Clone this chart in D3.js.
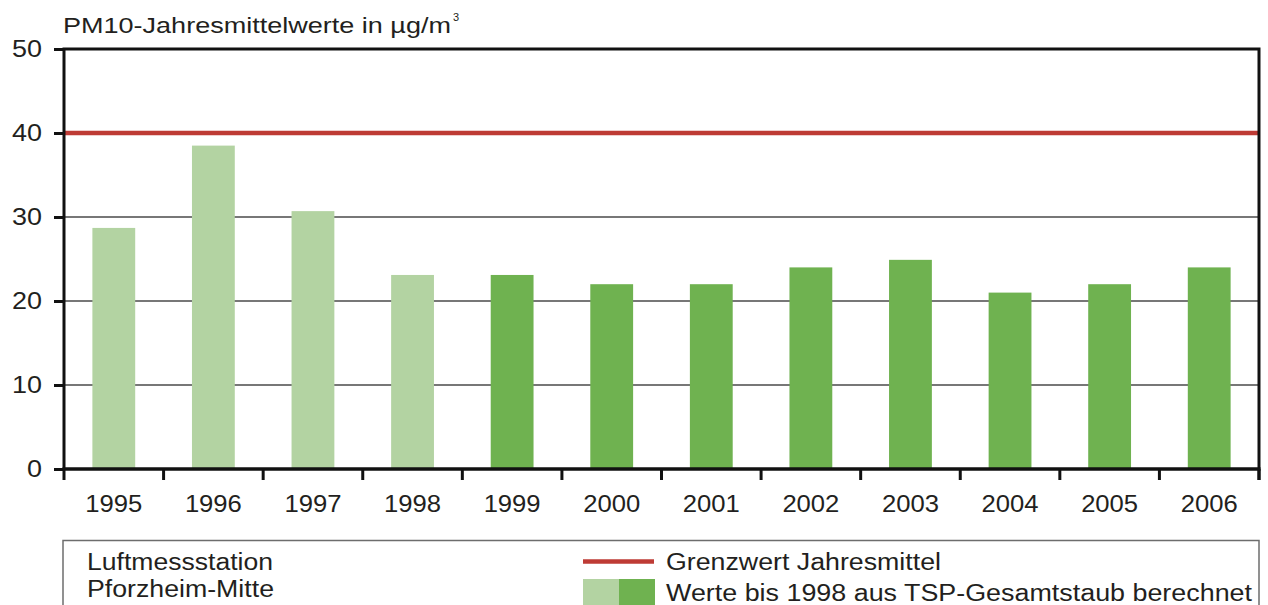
<!DOCTYPE html>
<html>
<head>
<meta charset="utf-8">
<script src="https://cdn.jsdelivr.net/npm/d3@7"></script>
<style>
  body { margin: 0; background: #fff; }
  svg text { font-family: "Liberation Sans", Arial, sans-serif; fill: #231f20; }
</style>
</head>
<body>
<svg id="chart" width="1268" height="605"></svg>
<script>
// PM10 annual means, Pforzheim-Mitte
const years = ["1995", "1996", "1997", "1998", "1999", "2000", "2001", "2002", "2003", "2004", "2005", "2006"];
const values = [28.7, 38.5, 30.7, 23.1, 23.1, 22, 22, 24, 24.9, 21, 22, 24];
const derived = ["1995", "1996", "1997", "1998"]; // computed from TSP
const limit = 40;
const yTicks = [0, 10, 20, 30, 40, 50];

const svg = d3.select("#chart");
const plotLeft = 64, plotRight = 1259, plotTop = 49, plotBottom = 469;

const x = d3.scaleBand().domain(years).range([plotLeft, plotRight]).paddingInner(0.57).paddingOuter(0.285);
const y = d3.scaleLinear().domain([0, 50]).range([plotBottom, plotTop]);

const light = "#b3d3a2", dark = "#6fb250", red = "#be3b35";

// the original type is set wider than Arial, so stretch text to its width
function stretch(sel, w) {
  sel.attr("textLength", w).attr("lengthAdjust", "spacingAndGlyphs");
}

// title
svg.append("text").attr("x", 63).attr("y", 32.5).attr("font-size", 22.5)
  .text("PM10-Jahresmittelwerte in µg/m").call(stretch, 388);
svg.append("text").attr("x", 453).attr("y", 21).attr("font-size", 11).text("3");

// gridlines
svg.append("g").selectAll("line").data([10, 20, 30]).join("line")
  .attr("x1", plotLeft).attr("x2", plotRight)
  .attr("y1", d => y(d)).attr("y2", d => y(d))
  .attr("stroke", "#4a4a4a").attr("stroke-width", 1.3);

// bars
svg.append("g").selectAll("rect").data(years).join("rect")
  .attr("x", d => x(d))
  .attr("width", x.bandwidth())
  .attr("y", (d, i) => y(values[i]))
  .attr("height", (d, i) => y(0) - y(values[i]))
  .attr("fill", d => derived.includes(d) ? light : dark);

// limit line
svg.append("line")
  .attr("x1", plotLeft).attr("x2", plotRight)
  .attr("y1", y(limit)).attr("y2", y(limit))
  .attr("stroke", red).attr("stroke-width", 4.5);

// y axis
const yAxis = svg.append("g").attr("transform", `translate(${plotLeft},0)`)
  .call(d3.axisLeft(y).tickValues(yTicks).tickSize(10).tickPadding(12));
yAxis.select(".domain").remove();
yAxis.selectAll("line").attr("stroke", "#111").attr("stroke-width", 3);
yAxis.selectAll("text")
  .attr("font-size", 23).attr("font-family", "Liberation Sans, Arial, sans-serif").attr("fill", "#231f20")
  .each(function(d) { d3.select(this).call(stretch, String(d).length * 15); });

// x axis ticks at band boundaries
const bounds = years.map(d => x(d) - x.step() * x.paddingInner() / 2);
bounds.push(plotRight);
svg.append("g").selectAll("line").data(bounds).join("line")
  .attr("x1", d => d).attr("x2", d => d)
  .attr("y1", plotBottom).attr("y2", plotBottom + 11)
  .attr("stroke", "#111").attr("stroke-width", 3);

svg.append("g").selectAll("text").data(years).join("text")
  .attr("x", d => x(d) + x.bandwidth() / 2).attr("y", 512)
  .attr("text-anchor", "middle").attr("font-size", 23)
  .text(d => d).call(stretch, 57);

// frame
svg.append("path")
  .attr("d", `M${plotLeft},${plotBottom}V${plotTop}H${plotRight}V${plotBottom + 11}`)
  .attr("fill", "none").attr("stroke", "#111").attr("stroke-width", 3);
svg.append("line").attr("x1", plotLeft - 1.5).attr("x2", plotRight + 1.5)
  .attr("y1", plotBottom).attr("y2", plotBottom).attr("stroke", "#111").attr("stroke-width", 3.5);

// legend box
svg.append("path")
  .attr("d", `M63,610V540.5H1259V610`)
  .attr("fill", "none").attr("stroke", "#6d6d6d").attr("stroke-width", 1.5);

svg.append("text").attr("x", 87).attr("y", 570).attr("font-size", 23)
  .text("Luftmessstation").call(stretch, 186);
svg.append("text").attr("x", 87).attr("y", 597).attr("font-size", 23)
  .text("Pforzheim-Mitte").call(stretch, 187);

svg.append("line").attr("x1", 583).attr("x2", 654).attr("y1", 561.5).attr("y2", 561.5)
  .attr("stroke", red).attr("stroke-width", 4.5);
svg.append("text").attr("x", 666).attr("y", 570).attr("font-size", 23)
  .text("Grenzwert Jahresmittel").call(stretch, 275);

svg.append("rect").attr("x", 583).attr("y", 579).attr("width", 36).attr("height", 30).attr("fill", light);
svg.append("rect").attr("x", 619).attr("y", 579).attr("width", 36).attr("height", 30).attr("fill", dark);
svg.append("text").attr("x", 666).attr("y", 601).attr("font-size", 23)
  .text("Werte bis 1998 aus TSP-Gesamtstaub berechnet").call(stretch, 586);
</script>
</body>
</html>
